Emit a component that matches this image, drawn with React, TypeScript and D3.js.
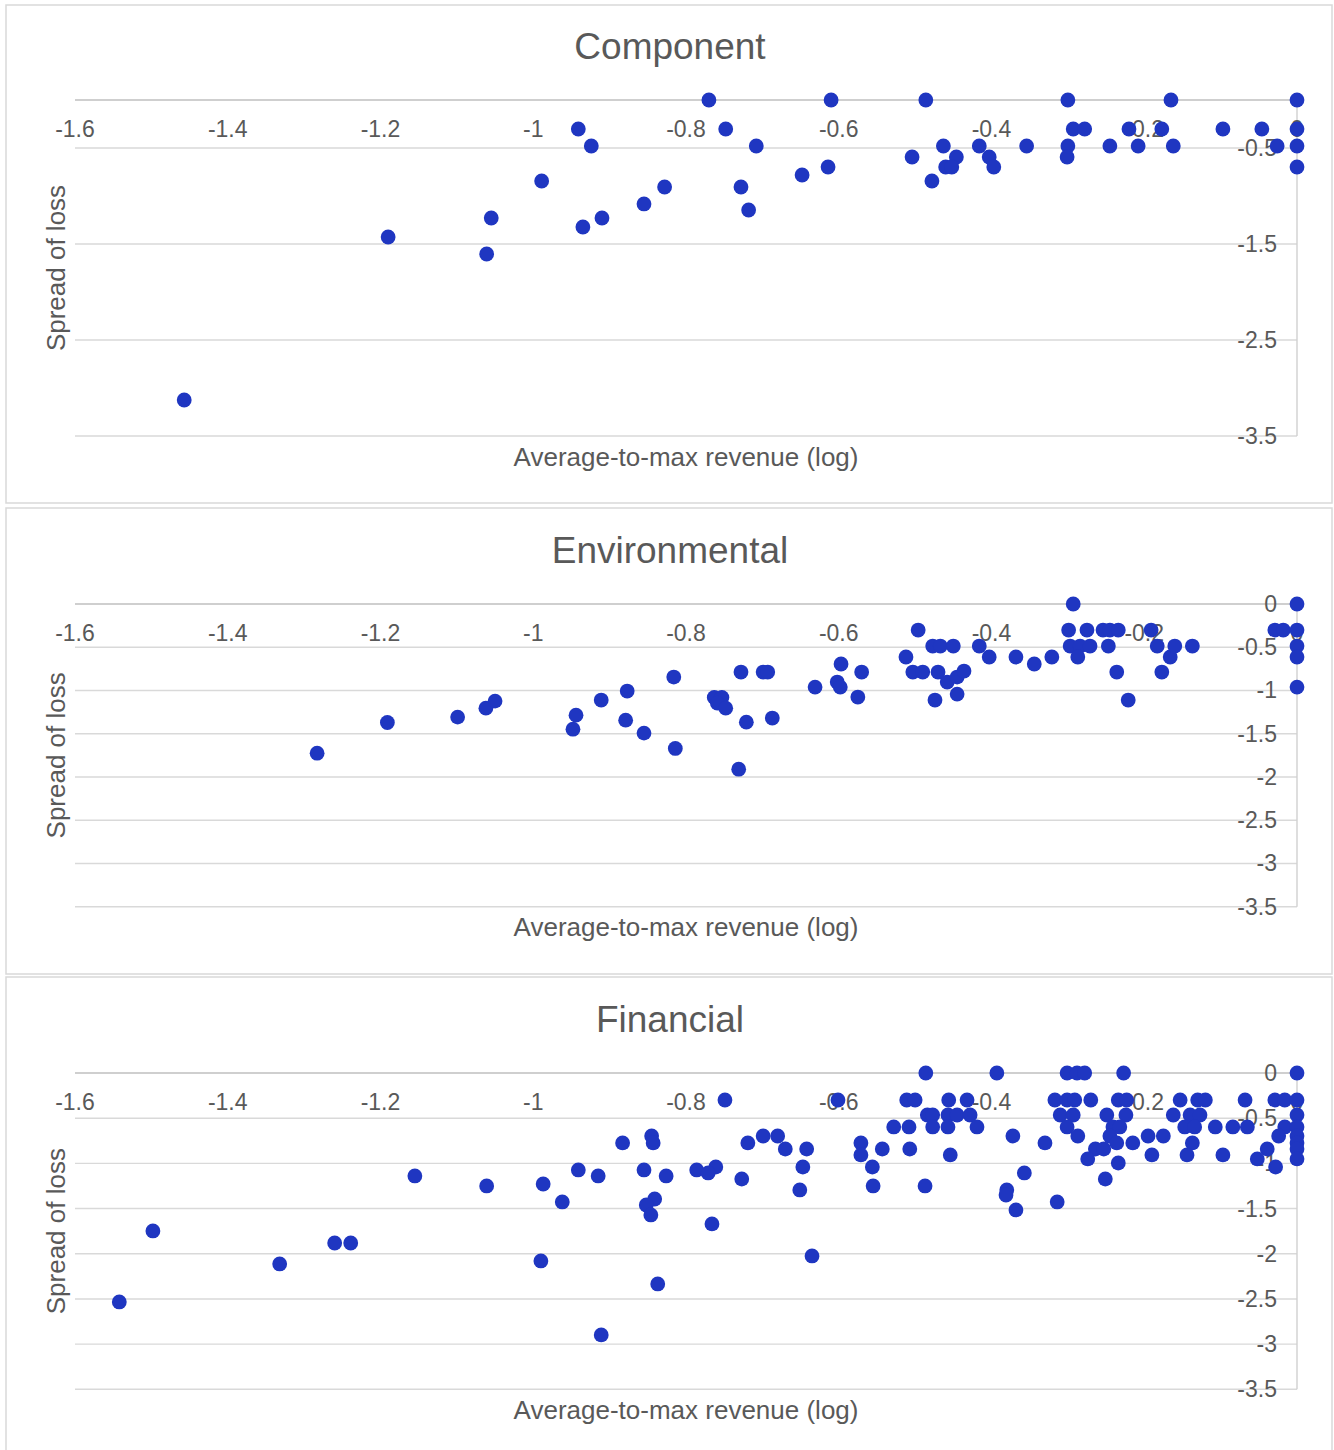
import React, { useEffect, useRef } from 'react';
import * as d3 from 'd3';

// [average-to-max revenue (log), spread of loss]
const componentPoints: [number, number][] = [
  [-1.457, -3.125], [-1.19, -1.427], [-1.061, -1.604], [-1.055, -1.229], [-0.989, -0.844],
  [-0.941, -0.302], [-0.924, -0.479], [-0.935, -1.323], [-0.91, -1.229], [-0.855, -1.083],
  [-0.828, -0.906], [-0.77, 0], [-0.748, -0.302], [-0.708, -0.479], [-0.728, -0.906],
  [-0.718, -1.146], [-0.648, -0.781], [-0.614, -0.698], [-0.61, 0], [-0.486, 0],
  [-0.504, -0.594], [-0.463, -0.479], [-0.446, -0.594], [-0.46, -0.698], [-0.452, -0.698],
  [-0.478, -0.844], [-0.416, -0.479], [-0.403, -0.594], [-0.397, -0.698], [-0.354, -0.479],
  [-0.3, 0], [-0.3, -0.479], [-0.301, -0.594], [-0.293, -0.302], [-0.278, -0.302],
  [-0.245, -0.479], [-0.22, -0.302], [-0.208, -0.479], [-0.177, -0.302], [-0.165, 0],
  [-0.162, -0.479], [-0.097, -0.302], [-0.046, -0.302], [-0.026, -0.479], [0, 0],
  [0, -0.302], [0, -0.479], [0, -0.698],
];

const environmentalPoints: [number, number][] = [
  [-1.283, -1.725], [-1.191, -1.37], [-1.099, -1.308], [-1.062, -1.204], [-1.05, -1.123],
  [-0.948, -1.447], [-0.944, -1.285], [-0.911, -1.111], [-0.877, -1.007], [-0.879, -1.343],
  [-0.855, -1.493], [-0.816, -0.845], [-0.814, -1.67], [-0.763, -1.08], [-0.753, -1.08],
  [-0.759, -1.146], [-0.748, -1.204], [-0.728, -0.787], [-0.721, -1.366], [-0.731, -1.91],
  [-0.699, -0.787], [-0.693, -0.787], [-0.687, -1.319], [-0.631, -0.961], [-0.602, -0.903],
  [-0.598, -0.961], [-0.597, -0.694], [-0.57, -0.787], [-0.575, -1.076], [-0.496, -0.301],
  [-0.512, -0.613], [-0.503, -0.787], [-0.49, -0.787], [-0.477, -0.486], [-0.467, -0.486],
  [-0.45, -0.486], [-0.47, -0.787], [-0.458, -0.903], [-0.445, -0.845], [-0.436, -0.775],
  [-0.474, -1.111], [-0.445, -1.042], [-0.416, -0.486], [-0.403, -0.613], [-0.368, -0.613],
  [-0.344, -0.694], [-0.321, -0.613], [-0.293, 0], [-0.299, -0.301], [-0.275, -0.301],
  [-0.254, -0.301], [-0.245, -0.301], [-0.234, -0.301], [-0.297, -0.486], [-0.284, -0.486],
  [-0.271, -0.486], [-0.287, -0.613], [-0.247, -0.486], [-0.236, -0.787], [-0.221, -1.111],
  [-0.191, -0.301], [-0.183, -0.486], [-0.166, -0.613], [-0.16, -0.486], [-0.177, -0.787],
  [-0.137, -0.486], [-0.029, -0.301], [-0.018, -0.301], [0, 0], [0, -0.301],
  [0, -0.486], [0, -0.613], [0, -0.961],
];

const financialPoints: [number, number][] = [
  [-0.486, 0], [-0.393, 0], [-0.301, 0], [-0.288, 0], [-0.278, 0], [-0.227, 0], [0, 0],
  [-0.749, -0.299], [-0.601, -0.299], [-0.511, -0.299], [-0.5, -0.299], [-0.456, -0.299],
  [-0.432, -0.299], [-0.317, -0.299], [-0.301, -0.299], [-0.291, -0.299], [-0.27, -0.299],
  [-0.234, -0.299], [-0.223, -0.299], [-0.153, -0.299], [-0.13, -0.299], [-0.12, -0.299],
  [-0.068, -0.299], [-0.029, -0.299], [-0.016, -0.299], [0, -0.299],
  [-0.484, -0.465], [-0.477, -0.465], [-0.457, -0.465], [-0.445, -0.465], [-0.428, -0.465],
  [-0.31, -0.465], [-0.293, -0.465], [-0.249, -0.465], [-0.224, -0.465], [-0.162, -0.465],
  [-0.14, -0.465], [-0.127, -0.465], [0, -0.465],
  [-0.528, -0.597], [-0.508, -0.597], [-0.477, -0.597], [-0.457, -0.597], [-0.419, -0.597],
  [-0.301, -0.597], [-0.241, -0.597], [-0.232, -0.597], [-0.147, -0.597], [-0.134, -0.597],
  [-0.107, -0.597], [-0.084, -0.597], [-0.065, -0.597], [-0.016, -0.597], [0, -0.597],
  [-0.845, -0.697], [-0.699, -0.697], [-0.68, -0.697], [-0.372, -0.697], [-0.287, -0.697],
  [-0.245, -0.697], [-0.195, -0.697], [-0.175, -0.697], [-0.024, -0.697], [0, -0.697],
  [-0.883, -0.774], [-0.843, -0.774], [-0.719, -0.774], [-0.571, -0.774], [-0.33, -0.774],
  [-0.236, -0.774], [-0.215, -0.774], [-0.137, -0.774], [0, -0.774],
  [-0.67, -0.841], [-0.642, -0.841], [-0.543, -0.841], [-0.507, -0.841], [-0.264, -0.841],
  [-0.253, -0.841], [-0.039, -0.841], [0, -0.841],
  [-0.571, -0.907], [-0.454, -0.907], [-0.19, -0.907], [-0.144, -0.907], [-0.097, -0.907],
  [-0.274, -0.951], [-0.052, -0.951], [0, -0.951], [-0.234, -0.996],
  [-0.761, -1.04], [-0.647, -1.04], [-0.556, -1.04], [-0.028, -1.04],
  [-0.941, -1.073], [-0.855, -1.073], [-0.786, -1.073], [-0.771, -1.106], [-0.357, -1.106],
  [-1.155, -1.139], [-0.915, -1.139], [-0.826, -1.139], [-0.727, -1.173], [-0.251, -1.173],
  [-0.987, -1.228], [-1.061, -1.25], [-0.555, -1.25], [-0.487, -1.25], [-0.651, -1.294],
  [-0.38, -1.294], [-0.381, -1.35], [-0.841, -1.394], [-0.962, -1.427], [-0.314, -1.427],
  [-0.852, -1.46], [-0.368, -1.515], [-0.846, -1.571], [-0.766, -1.67], [-1.498, -1.748],
  [-1.26, -1.881], [-1.239, -1.881], [-0.635, -2.024], [-0.99, -2.08], [-1.332, -2.113],
  [-0.837, -2.334], [-1.542, -2.533], [-0.911, -2.898],
];

const xTicks = [-1.6, -1.4, -1.2, -1, -0.8, -0.6, -0.4, -0.2, 0];
const yTicksSparse = [-0.5, -1.5, -2.5, -3.5];
const yTicksFull = [0, -0.5, -1, -1.5, -2, -2.5, -3, -3.5];

const titles = ['Component', 'Environmental', 'Financial'];
const xTitle = 'Average-to-max revenue (log)';
const yTitle = 'Spread of loss';

const W = 1334;
const H = 1450;
const FONT = '"Liberation Sans", Arial, sans-serif';
const TEXT = '#595959';
const DOT = '#1f36c1';

// box top/bottom and plot top/bottom for each panel
const panels = [
  { title: titles[0], data: componentPoints, yTicks: yTicksSparse, boxTop: 5, boxBottom: 503, top: 100, bottom: 436 },
  { title: titles[1], data: environmentalPoints, yTicks: yTicksFull, boxTop: 508, boxBottom: 974, top: 604, bottom: 906.7 },
  { title: titles[2], data: financialPoints, yTicks: yTicksFull, boxTop: 977, boxBottom: 1460, top: 1073, bottom: 1389.3 },
];

const App = () => {
  const ref = useRef<SVGSVGElement | null>(null);

  useEffect(() => {
    const svg = d3.select(ref.current);
    svg.selectAll('*').remove();

    const left = 75;
    const right = 1297;

    const x = d3.scaleLinear().domain([-1.6, 0]).range([left, right]);

    svg.append('rect').attr('width', W).attr('height', H).attr('fill', '#fff');

    panels.forEach(p => {
      const y = d3.scaleLinear().domain([-3.5, 0]).range([p.bottom, p.top]);
      const g = svg.append('g');

      // Panel frame
      g.append('rect')
        .attr('x', 6)
        .attr('y', p.boxTop)
        .attr('width', 1326)
        .attr('height', p.boxBottom - p.boxTop)
        .attr('fill', 'none')
        .attr('stroke', '#d9d9d9')
        .attr('stroke-width', 1.5);

      // Gridlines
      g.selectAll('.grid')
        .data(p.yTicks.filter(t => t !== 0))
        .enter()
        .append('line')
        .attr('x1', left)
        .attr('x2', right)
        .attr('y1', d => y(d))
        .attr('y2', d => y(d))
        .attr('stroke', '#d9d9d9')
        .attr('stroke-width', 1.4);

      // Vertical axis on the right
      g.append('line')
        .attr('x1', right)
        .attr('x2', right)
        .attr('y1', y(0))
        .attr('y2', y(-3.5))
        .attr('stroke', '#d0d0d0')
        .attr('stroke-width', 1.4);

      // Horizontal axis at 0
      g.append('line')
        .attr('x1', left)
        .attr('x2', right)
        .attr('y1', y(0))
        .attr('y2', y(0))
        .attr('stroke', '#bfbfbf')
        .attr('stroke-width', 1.6);

      // X tick labels
      g.selectAll('.xt')
        .data(xTicks)
        .enter()
        .append('text')
        .attr('x', d => x(d))
        .attr('y', y(0) + 37)
        .attr('text-anchor', 'middle')
        .attr('fill', TEXT)
        .style('font-family', FONT)
        .style('font-size', '23px')
        .text(d => String(d));

      // Y tick labels
      g.selectAll('.yt')
        .data(p.yTicks)
        .enter()
        .append('text')
        .attr('x', 1277)
        .attr('y', d => y(d) + 8)
        .attr('text-anchor', 'end')
        .attr('fill', TEXT)
        .style('font-family', FONT)
        .style('font-size', '23px')
        .text(d => String(d));

      // Chart title
      g.append('text')
        .attr('x', 670)
        .attr('y', p.top - 41)
        .attr('text-anchor', 'middle')
        .attr('fill', TEXT)
        .style('font-family', FONT)
        .style('font-size', '37px')
        .text(p.title);

      // Axis titles
      g.append('text')
        .attr('x', (left + right) / 2)
        .attr('y', p.bottom + 29.5)
        .attr('text-anchor', 'middle')
        .attr('fill', TEXT)
        .style('font-family', FONT)
        .style('font-size', '26px')
        .text(xTitle);

      g.append('text')
        .attr('transform', `translate(65, ${(p.top + p.bottom) / 2}) rotate(-90)`)
        .attr('text-anchor', 'middle')
        .attr('fill', TEXT)
        .style('font-family', FONT)
        .style('font-size', '26px')
        .text(yTitle);

      // Points
      g.selectAll('.dot')
        .data(p.data)
        .enter()
        .append('circle')
        .attr('cx', d => x(d[0]))
        .attr('cy', d => y(d[1]))
        .attr('r', 7.4)
        .attr('fill', DOT);
    });
  }, []);

  return (
    <svg
      ref={ref}
      width={W}
      height={H}
      style={{ position: 'absolute', left: 0, top: 0, display: 'block' }}
    />
  );
};

export default App;
